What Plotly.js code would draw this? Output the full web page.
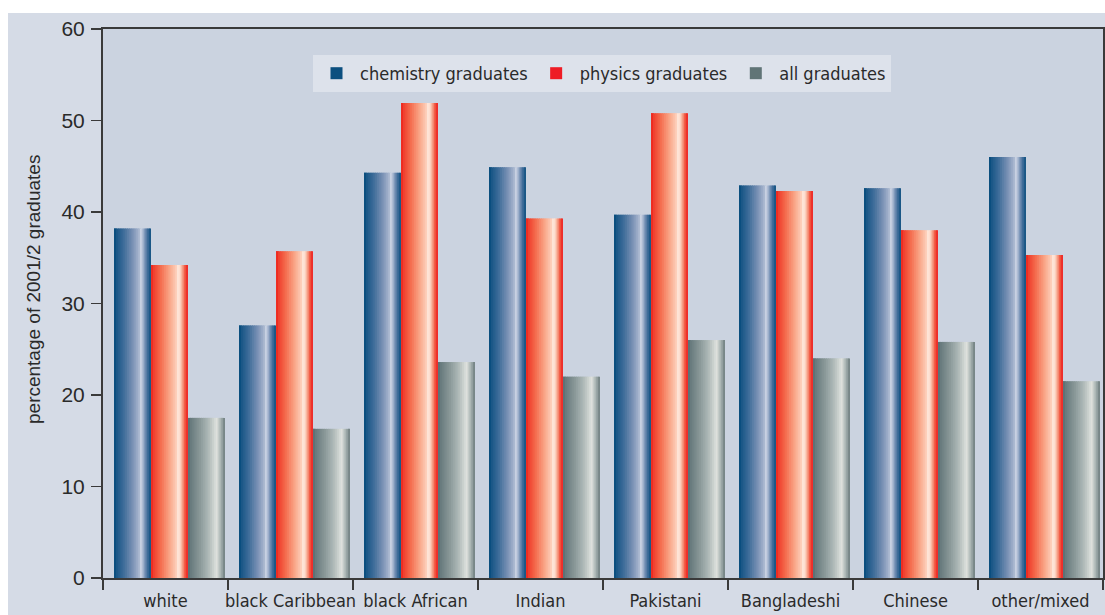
<!DOCTYPE html>
<html>
<head>
<meta charset="utf-8">
<script src="https://cdn.plot.ly/plotly-3.0.1.min.js"></script>
<style>
html,body{margin:0;padding:0;background:#fff;}
#chart{width:1105px;height:615px;}
</style>
</head>
<body>
<div id="chart"></div>
<script>
// ---- data ----
const categories = ['white', 'black Caribbean', 'black African', 'Indian', 'Pakistani', 'Bangladeshi', 'Chinese', 'other/mixed'];
const chemistry = [38.2, 27.6, 44.3, 44.9, 39.7, 42.9, 42.6, 46.0];
const physics = [34.2, 35.7, 51.9, 39.3, 50.8, 42.3, 38.0, 35.3];
const allGraduates = [17.5, 16.3, 23.6, 22.0, 26.0, 24.0, 25.8, 21.5];
const seriesNames = ['chemistry graduates', 'physics graduates', 'all graduates'];
const yTickVals = [0, 10, 20, 30, 40, 50, 60];
const yTitle = 'percentage of 2001/2 graduates';

// ---- styling ----
const FONT_NARROW = '"Liberation Sans Narrow", "Arial Narrow", "DejaVu Sans Condensed", sans-serif';
const FONT_SANS = '"Liberation Sans", Arial, sans-serif';
const gradients = [
  [[0, '#0b4f7f'], [0.25, '#3c6b98'], [0.5, '#7890b4'], [0.68, '#a9b7cf'], [0.74, '#d3dae8'], [0.8, '#93a7c5'], [0.9, '#466f9c'], [1, '#0b4f7f']],
  [[0, '#ee2e22'], [0.25, '#f46a4c'], [0.5, '#f9a587'], [0.68, '#fdcdb8'], [0.75, '#fff1e8'], [0.83, '#f9b49c'], [0.93, '#f14b36'], [1, '#ec1c24']],
  [[0, '#5e7276'], [0.3, '#879696'], [0.55, '#adb8b7'], [0.72, '#d3d8d5'], [0.77, '#e0e2de'], [0.86, '#b4bebc'], [1, '#6b7b7d']]
];
const legendColors = ['#0b4f7f', '#ee1c25', '#607476'];
const seriesValues = [chemistry, physics, allGraduates];
const BAR_W = 0.296;
const GROUP_START = -0.412;
const N = 20;

function hex2rgb(h) { return [parseInt(h.slice(1,3),16), parseInt(h.slice(3,5),16), parseInt(h.slice(5,7),16)]; }
function interp(stops, t) {
  for (let i = 0; i < stops.length - 1; i++) {
    const [t0, c0] = stops[i], [t1, c1] = stops[i+1];
    if (t >= t0 && t <= t1) {
      const f = (t - t0) / (t1 - t0 || 1);
      const a = hex2rgb(c0), b = hex2rgb(c1);
      return 'rgb(' + a.map((v, k) => Math.round(v + (b[k]-v)*f)).join(',') + ')';
    }
  }
  return stops[stops.length-1][1];
}

const traces = [];
seriesValues.forEach((vals, s) => {
  const base = GROUP_START + s * BAR_W;
  const sw = BAR_W / N;
  for (let i = 0; i < N; i++) {
    const t = (i + 0.5) / N;
    const w = (i === N - 1) ? sw : sw * 1.6;
    traces.push({
      type: 'bar',
      x: categories,
      y: vals,
      offset: base + i * sw,
      width: w,
      name: seriesNames[s],
      legendgroup: 'g' + s,
      showlegend: i === 0,
      marker: { color: i === 0 ? legendColors[s] : interp(gradients[s], t), line: { width: 0 } },
      hoverinfo: 'skip'
    });
  }
});
seriesValues.forEach((vals, s) => {
  const base = GROUP_START + s * BAR_W;
  traces.push({
    type: 'bar', x: categories, y: vals, offset: base, width: BAR_W / N,
    marker: { color: gradients[s][0][1], line: { width: 0 } }, showlegend: false, hoverinfo: 'skip'
  });
});

const L = 103, R = 2, T = 29, B = 37, W = 1105, H = 615;
const pw = W - L - R, ph = H - T - B;
const px = v => (v - L) / pw;
const py = v => (H - B - v) / ph;

const layout = {
  width: W, height: H,
  margin: { l: L, r: R, t: T, b: B, pad: 0 },
  paper_bgcolor: '#d5dbe6',
  plot_bgcolor: '#cbd3e0',
  barmode: 'overlay',
  showlegend: true,
  legend: {
    orientation: 'h', x: px(313), y: py(55), xanchor: 'left', yanchor: 'top',
    bgcolor: '#dde2eb', borderwidth: 0, itemwidth: 37,
    font: { family: FONT_NARROW, size: 18, color: '#2a2a2a' },
    traceorder: 'normal', itemclick: false, itemdoubleclick: false
  },
  xaxis: {
    type: 'category', range: [-0.5, 7.5],
    showline: true, linecolor: '#3a3a3a', linewidth: 2, mirror: true,
    ticks: 'outside', tickson: 'boundaries', ticklen: 10, tickcolor: '#3a3a3a', tickwidth: 1.5,
    tickangle: 0, automargin: false, ticklabelstandoff: 5,
    showgrid: false, zeroline: false,
    tickfont: { family: FONT_NARROW, size: 18, color: '#2a2a2a' },
    fixedrange: true
  },
  yaxis: {
    range: [0, 60], tickvals: yTickVals, ticktext: yTickVals.map(String),
    showline: true, linecolor: '#3a3a3a', linewidth: 2, mirror: true,
    ticks: 'outside', ticklen: 10, tickcolor: '#3a3a3a', tickwidth: 1.5,
    ticklabelstandoff: 2,
    showgrid: false, zeroline: false,
    tickfont: { family: FONT_SANS, size: 21, color: '#2a2a2a' },
    automargin: false,
    fixedrange: true
  },
  annotations: [
    { text: yTitle, xref: 'paper', yref: 'paper', x: px(33), y: py(290), xanchor: 'center', yanchor: 'middle',
      textangle: -90, showarrow: false, font: { family: FONT_SANS, size: 19, color: '#2a2a2a' } }
  ],
  shapes: [
    { type: 'rect', xref: 'paper', yref: 'paper', x0: px(0), x1: px(8), y0: py(H), y1: py(0), fillcolor: '#ffffff', line: { width: 0 }, layer: 'above' },
    { type: 'rect', xref: 'paper', yref: 'paper', x0: px(0), x1: px(W), y0: py(13), y1: py(0), fillcolor: '#ffffff', line: { width: 0 }, layer: 'above' }
  ]
};

Plotly.newPlot('chart', traces, layout, { displayModeBar: false, staticPlot: true });
</script>
</body>
</html>
